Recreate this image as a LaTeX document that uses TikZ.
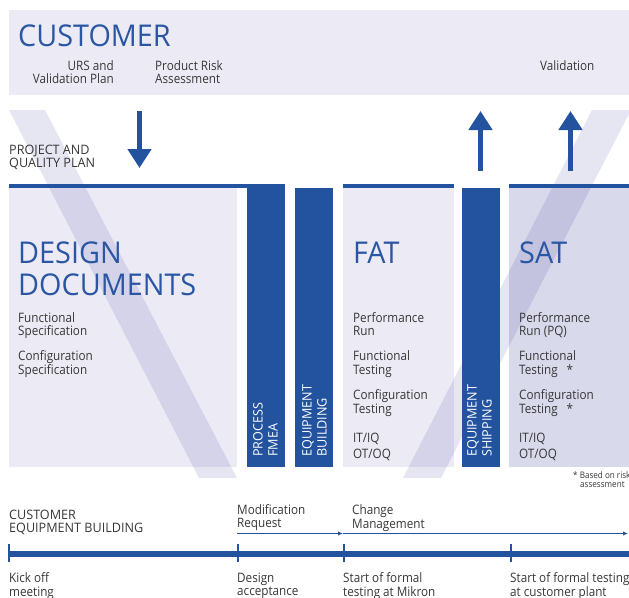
\documentclass[tikz,border=0pt]{standalone}
\usepackage{fontspec}
\setmainfont{Open Sans}[FakeStretch=0.9]
\newfontfamily\titlefont{Open Sans}[FakeStretch=0.96]
\newfontfamily\capsfont{Open Sans}[FakeStretch=0.97]
\usetikzlibrary{arrows.meta}
\definecolor{vblue}{RGB}{35,82,158}
\definecolor{ttl}{RGB}{42,86,164}
\definecolor{lav}{RGB}{236,235,245}
\definecolor{lavd}{RGB}{217,217,236}
\definecolor{vband}{RGB}{230,230,243}
\definecolor{txt}{RGB}{55,55,55}
\begin{document}
\begin{tikzpicture}[x=1pt,y=-1pt,
  sm/.style={font=\fontsize{13}{13.5}\selectfont, text=txt, inner sep=0pt, anchor=north west, align=left},
  caps/.style={sm, font=\capsfont\fontsize{13}{13.5}\selectfont},
  tiny/.style={font=\fontsize{9}{9.5}\selectfont, text=txt, inner sep=0pt, anchor=north west, align=left},
  big/.style={font=\titlefont\fontsize{30}{32}\selectfont, text=ttl, inner sep=0pt, align=left},
  bartext/.style={font=\capsfont\fontsize{13}{15}\selectfont, text=white, inner sep=0pt, anchor=north west, align=left, rotate=90},
  bigarrow/.style={vblue, line width=5pt, -{Triangle[length=19pt,width=23pt]}},
  thinarrow/.style={vblue, line width=1.4pt, -{Latex[length=5pt,width=4.5pt]}},
  tick/.style={vblue, line width=2pt}]
\useasboundingbox (0,0) rectangle (629,597);
% customer box
\fill[lav] (9,10) rectangle (629,95);
% column boxes
\fill[lav] (9,188) rectangle (237,467);
\fill[lav] (343,188) rectangle (454,467);
\fill[lavd] (509,188) rectangle (629,467);
% V bands
\begin{scope}[blend mode=multiply]
\fill[vband] (9,110) -- (45,110) -- (237,478) -- (199,478) -- cycle;
\fill[vband] (592,110) -- (631,110) -- (441,478) -- (403,478) -- cycle;
\end{scope}
% top lines and bars
\fill[vblue] (9,184) rectangle (285,188);
\fill[vblue] (343,184) rectangle (454,188);
\fill[vblue] (509,184) rectangle (629,188);
\fill[vblue] (247,184) rectangle (285,467);
\fill[vblue] (295,188) rectangle (333,467);
\fill[vblue] (462,188) rectangle (500,467);
% big arrows
\coordinate (dnA) at (139.5,111);
\coordinate (dnB) at (139.5,168);
\coordinate (upA1) at (480.5,171);
\coordinate (upB1) at (480.5,111);
\coordinate (upA2) at (570.5,171);
\coordinate (upB2) at (570.5,111);
\draw[bigarrow] (dnA) -- (dnB);
\draw[bigarrow] (upA1) -- (upB1);
\draw[bigarrow] (upA2) -- (upB2);
% titles
\node[big, anchor=base west] (cust) at (18,46) {CUSTOMER};
\node[big, anchor=north west] (dd) at (18,242) {DESIGN\\DOCUMENTS};
\node[big, anchor=base west] (fat) at (353,263) {FAT};
\node[big, anchor=base west] (sat) at (519,263) {SAT};
% customer texts
\node[sm, anchor=north east, align=right] (urs) at (114,60) {URS and\\Validation Plan};
\node[sm] (prr) at (155,60) {Product Risk\\Assessment};
\node[sm] (val) at (540,60) {Validation};
\node[caps] (pqp) at (9,144.5) {PROJECT AND\\QUALITY PLAN};
% design documents
\node[sm] (fs) at (18,312) {Functional\\Specification};
\node[sm] (cs) at (18,350.5) {Configuration\\Specification};
% FAT
\node[sm] (fpr) at (353,312) {Performance\\Run};
\node[sm] (fft) at (353,350.5) {Functional\\Testing};
\node[sm] (fct) at (353,389.5) {Configuration\\Testing};
\node[sm] (fiq) at (353,433) {IT/IQ\\[2.5pt]OT/OQ};
% SAT
\node[sm] (spr) at (519,312) {Performance\\Run (PQ)};
\node[sm] (sft) at (519,350.5) {Functional\\Testing\hspace{9pt}*};
\node[sm] (sct) at (519,389.5) {Configuration\\Testing\hspace{9pt}*};
\node[sm] (siq) at (519,433) {IT/IQ\\[2.5pt]OT/OQ};
\node[tiny] (note) at (573,471) {* Based on risk\\\hspace*{7pt}assessment};
% bar texts
\node[bartext] (pf) at (253,457) {PROCESS\\FMEA};
\node[bartext] (eb) at (302,457) {EQUIPMENT\\BUILDING};
\node[bartext] (es) at (467,457) {EQUIPMENT\\SHIPPING};
% timeline
\node[caps] (ceb) at (9,509.5) {CUSTOMER\\EQUIPMENT BUILDING};
\node[sm] (mr) at (237,504) {Modification\\Request};
\node[sm] (cm) at (352,504.5) {Change\\Management};
\coordinate (t0) at (9,553.5);
\coordinate (t1) at (238,553.5);
\coordinate (t2) at (343.5,553.5);
\coordinate (t3) at (511,553.5);
\coordinate (tend) at (629,553.5);
\coordinate (a0) at (237,533.5);
\coordinate (a1) at (343,533.5);
\coordinate (a2) at (628,533.5);
\draw[thinarrow] (a0) -- (a1);
\draw[thinarrow] (a1) -- (a2);
\draw[vblue, line width=6pt] (t0) -- (tend);
\foreach \t in {t0,t1,t2,t3} {
  \draw[tick] ([yshift=-8.5pt]\t) -- ([yshift=9.5pt]\t);
}
\node[sm] (ko) at (9,572.5) {Kick off\\meeting};
\node[sm] (da) at (237,572.5) {Design\\acceptance};
\node[sm] (sm1) at (343,572.5) {Start of formal\\testing at Mikron};
\node[sm] (sm2) at (510,572.5) {Start of formal testing\\at customer plant};
\end{tikzpicture}
\end{document}
